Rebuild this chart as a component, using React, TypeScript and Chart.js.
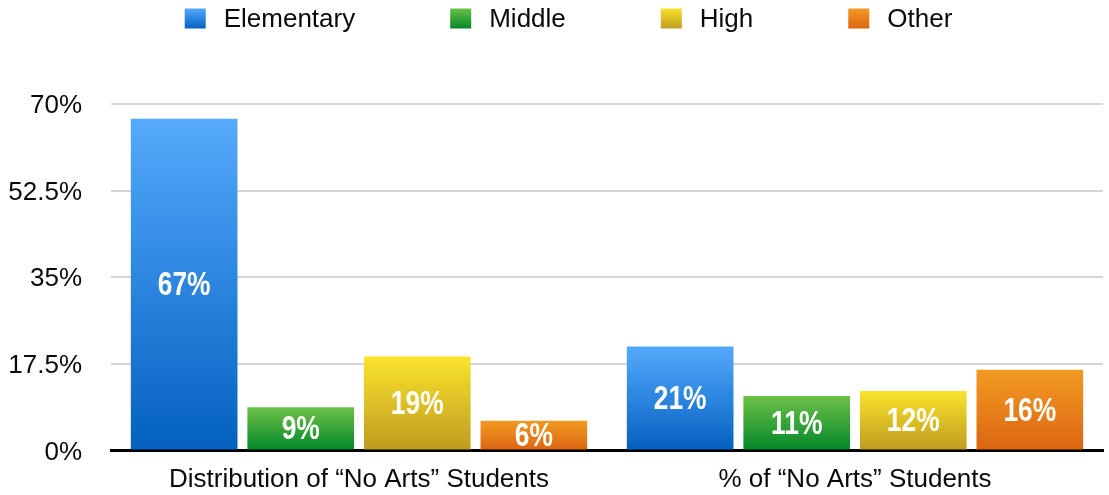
import React, { useEffect, useRef } from "react";
import { Chart, registerables } from "chart.js";

Chart.register(...registerables);

const categories = ["Distribution of \u201CNo Arts\u201D Students", "% of \u201CNo Arts\u201D Students"];
const seriesNames = ["Elementary", "Middle", "High", "Other"];
const elementary = [67, 21];
const middle = [8.7, 11];
const high = [19, 12];
const other = [6, 16.3];
const yTicks = [0, 17.5, 35, 52.5, 70];

const gradientStops: [string, string][] = [
  ["#54aafc", "#0460c0"],
  ["#6dc147", "#02862a"],
  ["#fae42c", "#bf9a20"],
  ["#f19b22", "#dc6411"],
];

const FONT = '"Liberation Sans", Helvetica, Arial, sans-serif';

const barGradient = (idx: number) => (ctx: any) => {
  const chart = ctx.chart;
  const yScale = chart.scales?.y;
  if (!chart.chartArea || !yScale || ctx.raw == null) return gradientStops[idx][0];
  const top = yScale.getPixelForValue(ctx.raw);
  const bot = yScale.getPixelForValue(0);
  const g = chart.ctx.createLinearGradient(0, top, 0, bot);
  g.addColorStop(0, gradientStops[idx][0]);
  g.addColorStop(1, gradientStops[idx][1]);
  return g;
};

const legendPlugin = {
  id: "customLegend",
  afterDraw(chart: any) {
    const ctx = chart.ctx;
    const box = 21;
    const boxGap = 18;
    const itemGap = 95;
    ctx.save();
    ctx.font = `26px ${FONT}`;
    const names = chart.data.datasets.map((d: any) => d.label);
    const widths = names.map((n: string) => ctx.measureText(n).width);
    const total = widths.reduce((a: number, w: number) => a + box + boxGap + w, 0) + itemGap * (names.length - 1);
    let x = chart.width / 2 + 14 - total / 2;
    const cy = 18.5;
    names.forEach((n: string, i: number) => {
      const g = ctx.createLinearGradient(0, cy - box / 2, 0, cy + box / 2);
      g.addColorStop(0, gradientStops[i][0]);
      g.addColorStop(1, gradientStops[i][1]);
      ctx.fillStyle = g;
      ctx.fillRect(x, cy - 10, box, 20);
      x += box + boxGap;
      ctx.fillStyle = "#0a0a0a";
      ctx.textAlign = "left";
      ctx.textBaseline = "middle";
      ctx.fillText(n, x, cy + 1);
      x += widths[i] + itemGap;
    });
    ctx.restore();
  },
};

const valueLabelPlugin = {
  id: "valueLabels",
  afterDatasetsDraw(chart: any) {
    const ctx = chart.ctx;
    const squeeze = 0.8;
    chart.data.datasets.forEach((ds: any, di: number) => {
      const meta = chart.getDatasetMeta(di);
      meta.data.forEach((bar: any, i: number) => {
        const v = ds.data[i];
        const cy = (bar.y + bar.base) / 2;
        ctx.save();
        ctx.font = `bold 33px ${FONT}`;
        ctx.fillStyle = "#ffffff";
        ctx.textAlign = "center";
        ctx.textBaseline = "middle";
        ctx.translate(bar.x, cy + 2);
        ctx.scale(squeeze, 1);
        ctx.fillText(`${Math.round(v)}%`, 0, 0);
        ctx.restore();
      });
    });
  },
};

export default function App() {
  const canvasRef = useRef<HTMLCanvasElement | null>(null);

  useEffect(() => {
    if (!canvasRef.current) return;
    Chart.defaults.font.family = FONT;
    const seriesData = [elementary, middle, high, other];
    const chart = new Chart(canvasRef.current, {
      type: "bar",
      data: {
        labels: categories,
        datasets: seriesNames.map((name, i) => ({
          label: name,
          data: seriesData[i],
          backgroundColor: barGradient(i),
          borderWidth: 0,
          categoryPercentage: 0.94,
          barPercentage: 0.915,
        })),
      },
      options: {
        responsive: true,
        maintainAspectRatio: false,
        animation: false,
        layout: { padding: { top: 104, left: 0, right: 6, bottom: 0 } },
        plugins: {
          legend: { display: false },
          tooltip: { enabled: false },
        },
        scales: {
          x: {
            z: 1,
            grid: { display: true, drawOnChartArea: false, drawTicks: false },
            border: { display: true, color: "#000000", width: 3 },
            ticks: { color: "#0a0a0a", font: { size: 26 }, padding: 14 },
            afterFit: (s: any) => {
              s.height = 43;
            },
          },
          y: {
            min: 0,
            max: 70,
            afterBuildTicks: (s: any) => {
              s.ticks = yTicks.map((v) => ({ value: v }));
            },
            grid: { color: "#d6d6d6", lineWidth: 2, drawTicks: false },
            border: { display: false },
            ticks: {
              color: "#0a0a0a",
              font: { size: 26 },
              padding: 29,
              labelOffset: 2,
              callback: (v: any) => `${v}%`,
            },
            afterFit: (s: any) => {
              s.width = 111;
            },
          },
        },
      },
      plugins: [legendPlugin, valueLabelPlugin],
    });
    return () => chart.destroy();
  }, []);

  return (
    <div style={{ position: "absolute", left: 0, top: 0, width: 1109, height: 495, background: "#fff" }}>
      <canvas ref={canvasRef} />
    </div>
  );
}
